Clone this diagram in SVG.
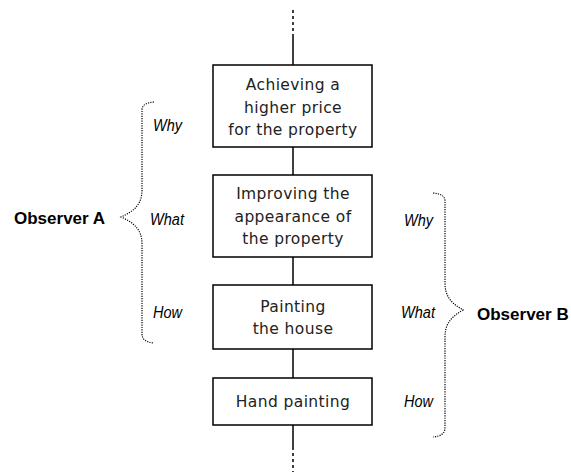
<svg xmlns="http://www.w3.org/2000/svg" width="571" height="472" viewBox="0 0 571 472">
<style>
.box{fill:#fff;stroke:#000;stroke-width:1.5}
.bt{font-family:"DejaVu Sans",sans-serif;font-size:15.5px;letter-spacing:0.4px;text-anchor:middle;fill:#222}
.lbl{font-family:"Liberation Sans",Arial,sans-serif;font-size:16px;font-style:italic;fill:#000}
.obs{font-family:"Liberation Sans",Arial,sans-serif;font-size:17px;font-weight:bold;fill:#000}
.ln{stroke:#000;stroke-width:1.5;fill:none}
.dash{stroke:#000;stroke-width:1.5;fill:none;stroke-dasharray:3 3}
.brace{stroke:#000;stroke-width:1.2;fill:none;stroke-dasharray:1.2 1.2}
</style>
<rect width="571" height="472" fill="#fff"/>
<g id="connectors">
<line class="dash" x1="293" y1="10" x2="293" y2="35"/>
<line class="ln" x1="293" y1="35" x2="293" y2="65"/>
<line class="ln" x1="293" y1="147" x2="293" y2="175"/>
<line class="ln" x1="293" y1="257" x2="293" y2="285"/>
<line class="ln" x1="293" y1="349" x2="293" y2="378"/>
<line class="ln" x1="293" y1="425" x2="293" y2="447"/>
<line class="dash" x1="293" y1="447" x2="293" y2="472"/>
</g>
<g id="n1">
<rect class="box" x="213" y="65" width="159" height="82"/>
<text class="bt" x="293" y="90">Achieving a</text>
<text class="bt" x="293" y="113">higher price</text>
<text class="bt" x="293" y="135">for the property</text>
</g>
<g id="n2">
<rect class="box" x="213" y="175" width="159" height="82"/>
<text class="bt" x="293" y="199">Improving the</text>
<text class="bt" x="293" y="222">appearance of</text>
<text class="bt" x="293" y="244">the property</text>
</g>
<g id="n3">
<rect class="box" x="213" y="285" width="159" height="64"/>
<text class="bt" x="293" y="312">Painting</text>
<text class="bt" x="293" y="334">the house</text>
</g>
<g id="n4">
<rect class="box" x="213" y="378" width="159" height="47"/>
<text class="bt" x="293" y="407">Hand painting</text>
</g>
<g id="observerA">
<path class="brace" d="M154,102 Q142,103 142,110 L142,190 C142,206 132,212 121,217 C132,222 142,228 142,244 L142,334 Q142,342 154,343"/>
<text class="obs" x="14" y="224">Observer A</text>
<text class="lbl" x="153" y="131" textLength="29" lengthAdjust="spacingAndGlyphs">Why</text>
<text class="lbl" x="150" y="225" textLength="34" lengthAdjust="spacingAndGlyphs">What</text>
<text class="lbl" x="153" y="318" textLength="29" lengthAdjust="spacingAndGlyphs">How</text>
</g>
<g id="observerB">
<path class="brace" d="M433,193 Q445,194 445,201 L445,283 C445,298 453,304 463,310 C453,316 445,322 445,337 L445,428 Q445,436 433,437"/>
<text class="obs" x="477" y="320">Observer B</text>
<text class="lbl" x="404" y="226" textLength="29" lengthAdjust="spacingAndGlyphs">Why</text>
<text class="lbl" x="401" y="318" textLength="34" lengthAdjust="spacingAndGlyphs">What</text>
<text class="lbl" x="404" y="407" textLength="29" lengthAdjust="spacingAndGlyphs">How</text>
</g>
</svg>
